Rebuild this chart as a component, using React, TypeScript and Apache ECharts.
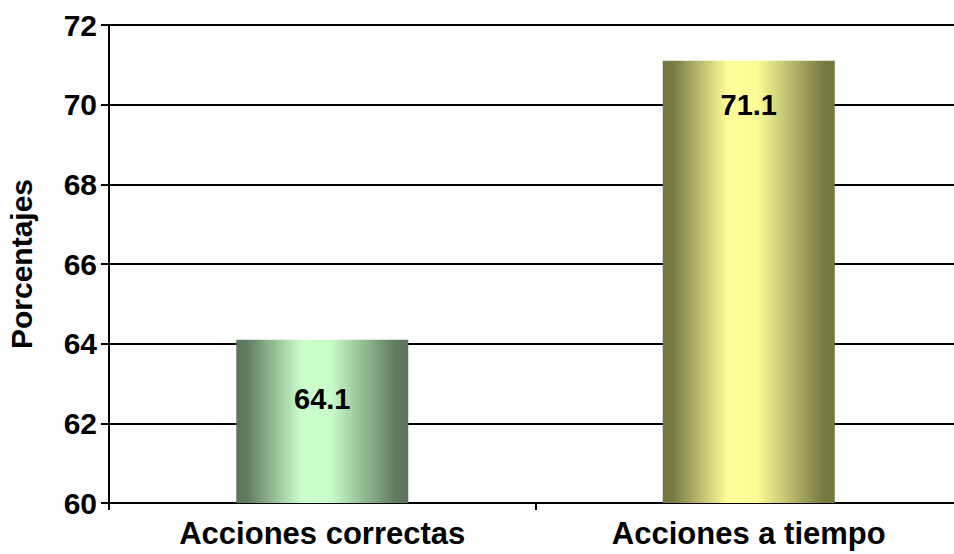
import React, { useEffect, useRef } from "react";
import * as echarts from "echarts";

const categories = ["Acciones correctas", "Acciones a tiempo"];
const values = [64.1, 71.1];
const labelDistances = [45, 30];
const gradientStops = [0, 0.06, 0.38, 0.55, 0.93, 1];
const barGradients = [
  ["#5b755b", "#5f7b60", "#ccffcc", "#c8fcc8", "#5f7b60", "#5b755b"],
  ["#76763f", "#7a7a45", "#ffff99", "#fcfc96", "#7a7a45", "#76763f"],
];

export default function App() {
  const ref = useRef<HTMLDivElement>(null);
  useEffect(() => {
    if (!ref.current) return;
    const chart = echarts.init(ref.current, null, { renderer: "svg" });
    const font = "Arial, 'Liberation Sans', sans-serif";
    chart.setOption({
      animation: false,
      backgroundColor: "#ffffff",
      grid: {
        left: 109,
        width: 853,
        top: 25,
        height: 478,
        containLabel: false,
        outerBoundsMode: "none",
      },
      xAxis: {
        type: "category",
        data: categories,
        axisLine: { show: true, lineStyle: { color: "#000", width: 2 } },
        axisTick: { show: true, length: 7, lineStyle: { color: "#000", width: 2 } },
        axisLabel: {
          color: "#000",
          fontSize: 31,
          fontWeight: "bold",
          fontFamily: font,
          margin: 15,
        },
        splitLine: { show: false },
      },
      yAxis: {
        type: "value",
        min: 60,
        max: 72,
        interval: 2,
        name: "Porcentajes",
        nameLocation: "middle",
        nameGap: 73,
        nameTextStyle: { color: "#000", fontSize: 30, fontWeight: "bold", fontFamily: font },
        axisLine: { show: true, lineStyle: { color: "#000", width: 2 } },
        axisTick: { show: true, length: 8, lineStyle: { color: "#000", width: 2 } },
        axisLabel: {
          color: "#000",
          fontSize: 30,
          fontWeight: "bold",
          fontFamily: font,
          margin: 12,
        },
        splitLine: { show: true, lineStyle: { color: "#000", width: 2 } },
      },
      series: [
        {
          type: "bar",
          barWidth: 172,
          data: values.map((v, i) => ({
            value: v,
            itemStyle: {
              color: new echarts.graphic.LinearGradient(
                0, 0, 1, 0,
                barGradients[i].map((c, k) => ({ offset: gradientStops[k], color: c }))
              ),
            },
            label: { distance: labelDistances[i] },
          })),
          label: {
            show: true,
            position: "insideTop",
            color: "#000",
            fontSize: 29,
            fontWeight: "bold",
            fontFamily: font,
            formatter: (p: any) => p.value.toFixed(1),
          },
        },
      ],
    });
    return () => chart.dispose();
  }, []);
  return (
    <div
      ref={ref}
      style={{ position: "fixed", left: 0, top: 0, width: 954, height: 554, background: "#fff" }}
    />
  );
}
